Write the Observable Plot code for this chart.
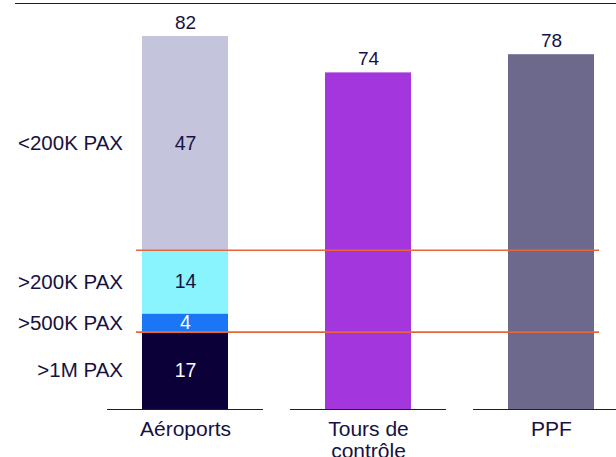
<!DOCTYPE html>
<html>
<head>
<meta charset="utf-8">
<script src="https://cdn.jsdelivr.net/npm/d3@7"></script>
<script src="https://cdn.jsdelivr.net/npm/@observablehq/plot@0.6"></script>
<style>
  html, body { margin: 0; padding: 0; background: #fff; }
  #wrap { position: relative; width: 616px; height: 457px; overflow: hidden; }
  #topline { position: absolute; left: 15px; top: 3px; width: 601px; height: 0; border-top: 1.5px solid #1c1a4a; }
  svg { font-family: "Liberation Sans", Arial, sans-serif; }
</style>
</head>
<body>
<div id="wrap"><div id="topline"></div></div>
<script>
// ---- data ----
const categories = ["Aéroports", "Tours de contrôle", "PPF"];
const categoryLabels = ["Aéroports", "Tours de\ncontrôle", "PPF"];
const airportSegments = [">1M PAX", ">500K PAX", ">200K PAX", "<200K PAX"];
const airportValues = [17, 4, 14, 47];
const otherCategories = ["Tours de contrôle", "PPF"];
const otherValues = [74, 78];

// ---- styles ----
const segmentColors = ["#0c0038", "#1a76f4", "#8af4fe", "#c4c4dc"];
const segmentTextColors = ["#ffffff", "#ffffff", "#161143", "#161143"];
const otherColors = ["#a336dc", "#6d698d"];
const ink = "#161143";

// ---- build rows ----
const rows = [];
let acc = 0;
airportSegments.forEach((s, i) => {
  rows.push({cat: categories[0], seg: s, v: airportValues[i], y1: acc, y2: acc + airportValues[i],
             fill: segmentColors[i], tfill: segmentTextColors[i]});
  acc += airportValues[i];
});
const airportTotal = acc;
otherCategories.forEach((c, i) => {
  rows.push({cat: c, seg: c, v: otherValues[i], y1: 0, y2: otherValues[i], fill: otherColors[i], tfill: ink});
});
const totals = [{cat: categories[0], v: airportTotal}]
  .concat(otherCategories.map((c, i) => ({cat: c, v: otherValues[i]})));
const airportRows = rows.filter(r => r.cat === categories[0]);
// separators: top of ">1M PAX" and top of ">200K PAX"
const separators = [airportRows[0].y2, airportRows[2].y2];

const chart = Plot.plot({
  width: 616,
  height: 457,
  marginLeft: 136,
  marginRight: 17,
  marginTop: 36,
  marginBottom: 48,
  style: {fontFamily: "'Liberation Sans', Arial, sans-serif", background: "transparent"},
  x: {type: "band", domain: categories, range: [44.75, 691.75], padding: 0.5307, axis: null},
  y: {domain: [0, 82], range: [409, 36], axis: null},
  marks: [
    Plot.barY(rows, {x: "cat", y1: "y1", y2: "y2", fill: "fill"}),
    // baseline segments
    Plot.tickY(categories, {x: d => d, y: () => 0, stroke: "#1c1a4a", strokeWidth: 1.2, insetLeft: -35, insetRight: -35}),
    // orange separators
    Plot.ruleY(separators, {stroke: "#e8643a", strokeWidth: 1.6}),
    // segment values
    Plot.text(airportRows, {x: "cat", y: d => (d.y1 + d.y2) / 2, text: d => String(d.v), fill: "tfill", fontSize: 19.5}),
    // segment labels on the left
    Plot.text(airportRows, {x: "cat", y: d => (d.y1 + d.y2) / 2, text: "seg", fill: ink, fontSize: 20.5, textAnchor: "end", dx: -62.5}),
    // totals above bars
    Plot.text(totals, {x: "cat", y: "v", text: d => String(d.v), fill: ink, fontSize: 19, dy: -14}),
    // category labels
    Plot.text(categories, {x: d => d, y: () => 0, text: (d, i) => categoryLabels[i], fill: ink, fontSize: 21, lineAnchor: "top", lineHeight: 1.05, dy: 11})
  ]
});
document.getElementById("wrap").appendChild(chart);
</script>
</body>
</html>
